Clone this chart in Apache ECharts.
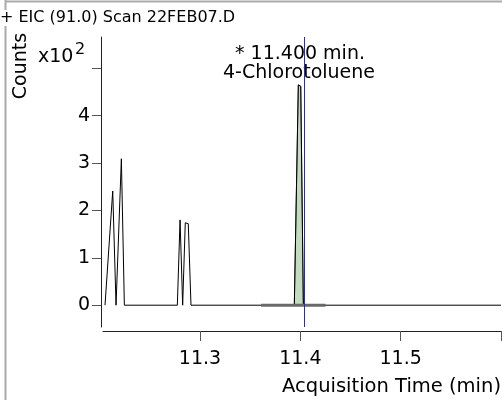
<!DOCTYPE html>
<html>
<head>
<meta charset="utf-8">
<script src="https://cdn.jsdelivr.net/npm/echarts@6/dist/echarts.min.js"></script>
<style>html,body{margin:0;padding:0;background:#fff}#c{width:502px;height:400px}</style>
</head>
<body>
<div id="c"></div>
<script>
// Trace (EIC 91.0) — time (min), counts
const traceTimes  = [11.2053, 11.2070, 11.2130, 11.2163, 11.2216, 11.2246, 11.2774, 11.2801, 11.2827, 11.2853, 11.2883, 11.2910, 11.3940, 11.3980, 11.4004, 11.4030, 11.6000];
const traceCounts = [0, 0, 241, 0, 309, 0, 0, 180, 0, 174, 172, 0, 0, 465, 462, 0, 0];
// Integrated peak (4-Chlorotoluene)
const peakTimes  = [11.3940, 11.3980, 11.4004, 11.4030];
const peakCounts = [0, 465, 462, 0];
// Integration baseline
const baseTimes  = [11.3608, 11.4251];
const baseCounts = [0, 0];
// Retention-time marker
const markerTime = 11.4040;
// Ticks
const yTickValues  = [0, 100, 200, 300, 400, 500];
const yLabelValues = [0, 100, 200, 300, 400];
const xTickValues  = [11.3, 11.4, 11.5, 11.6];
const xLabelValues = [11.3, 11.4, 11.5];
const xMin = 11.2033, xMax = 11.6, yMin = -46, yMax = 566;

const pair = (xs, ys) => xs.map((x, i) => [x, ys[i]]);
const FONT = 'DejaVu Sans';

const chart = echarts.init(document.getElementById('c'), null, {renderer: 'canvas'});
chart.setOption({
  animation: false,
  backgroundColor: '#fff',
  grid: {left: 103, right: 1, top: 37, bottom: 73, containLabel: false},
  xAxis: {
    type: 'value', min: xMin, max: xMax, offset: 4,
    axisLine: {show: true, onZero: false, lineStyle: {color: '#222', width: 1}},
    axisTick: {show: true, customValues: xTickValues, length: 10, inside: false, lineStyle: {color: '#555'}},
    axisLabel: {customValues: xLabelValues, margin: 19, color: '#000', fontFamily: FONT, fontSize: 19,
      formatter: v => v.toFixed(1)},
    splitLine: {show: false}
  },
  yAxis: {
    type: 'value', min: yMin, max: yMax, offset: 2,
    axisLine: {show: true, onZero: false, lineStyle: {color: '#222', width: 1}},
    axisTick: {show: true, customValues: yTickValues, length: 9, lineStyle: {color: '#555'}},
    axisLabel: {customValues: yLabelValues, margin: 11, color: '#000', fontFamily: FONT, fontSize: 19,
      formatter: v => String(Math.round(v / 100))},
    splitLine: {show: false}
  },
  series: [
    {
      type: 'line', data: pair(peakTimes, peakCounts), symbol: 'none', z: 1,
      lineStyle: {color: '#555', width: 1},
      areaStyle: {color: '#c3dcbf', opacity: 1}
    },
    {
      type: 'line', data: pair(traceTimes, traceCounts), symbol: 'none', z: 2,
      lineStyle: {color: '#000', width: 1},
      markLine: {
        silent: true, symbol: 'none', precision: 4, label: {show: false},
        lineStyle: {color: '#2a2ac0', width: 1, type: 'solid'},
        data: [{xAxis: markerTime}]
      }
    },
    {
      type: 'line', data: pair(baseTimes, baseCounts), symbol: 'none', z: 3,
      lineStyle: {color: '#6a6a6a', width: 3}
    }
  ],
  graphic: [
    {type: 'line', shape: {x1: 5, y1: 1.5, x2: 502, y2: 1.5}, style: {stroke: '#aaa', lineWidth: 2}, z: 0},
    {type: 'line', shape: {x1: 5.5, y1: 0, x2: 5.5, y2: 400}, style: {stroke: '#aaa', lineWidth: 2}, z: 0},
    {type: 'text', left: 0, top: 10, z: 10,
      style: {text: '+ EIC (91.0) Scan 22FEB07.D', font: '16px "DejaVu Sans"', fill: '#000', backgroundColor: '#fff'}},
    {type: 'text', x: 21, y: 66, rotation: Math.PI / 2, z: 10,
      style: {text: 'Counts', font: '19px "DejaVu Sans"', fill: '#000', align: 'center', verticalAlign: 'middle'}},
    {type: 'text', x: 38, y: 57, z: 10,
      style: {text: 'x10', font: '19px "DejaVu Sans"', fill: '#000', align: 'left', verticalAlign: 'middle'}},
    {type: 'text', x: 75, y: 50, z: 10,
      style: {text: '2', font: '16px "DejaVu Sans"', fill: '#000', align: 'left', verticalAlign: 'middle'}},
    {type: 'text', x: 300, y: 54, z: 1,
      style: {text: '* 11.400 min.', font: '19px "DejaVu Sans"', fill: '#000', align: 'center', verticalAlign: 'middle'}},
    {type: 'text', x: 299, y: 73, z: 1,
      style: {text: '4-Chlorotoluene', font: '19px "DejaVu Sans"', fill: '#000', align: 'center', verticalAlign: 'middle'}},
    {type: 'text', x: 501, y: 387, z: 10,
      style: {text: 'Acquisition Time (min)', font: '19.5px "DejaVu Sans"', fill: '#000', align: 'right', verticalAlign: 'middle'}}
  ]
});
</script>
</body>
</html>
